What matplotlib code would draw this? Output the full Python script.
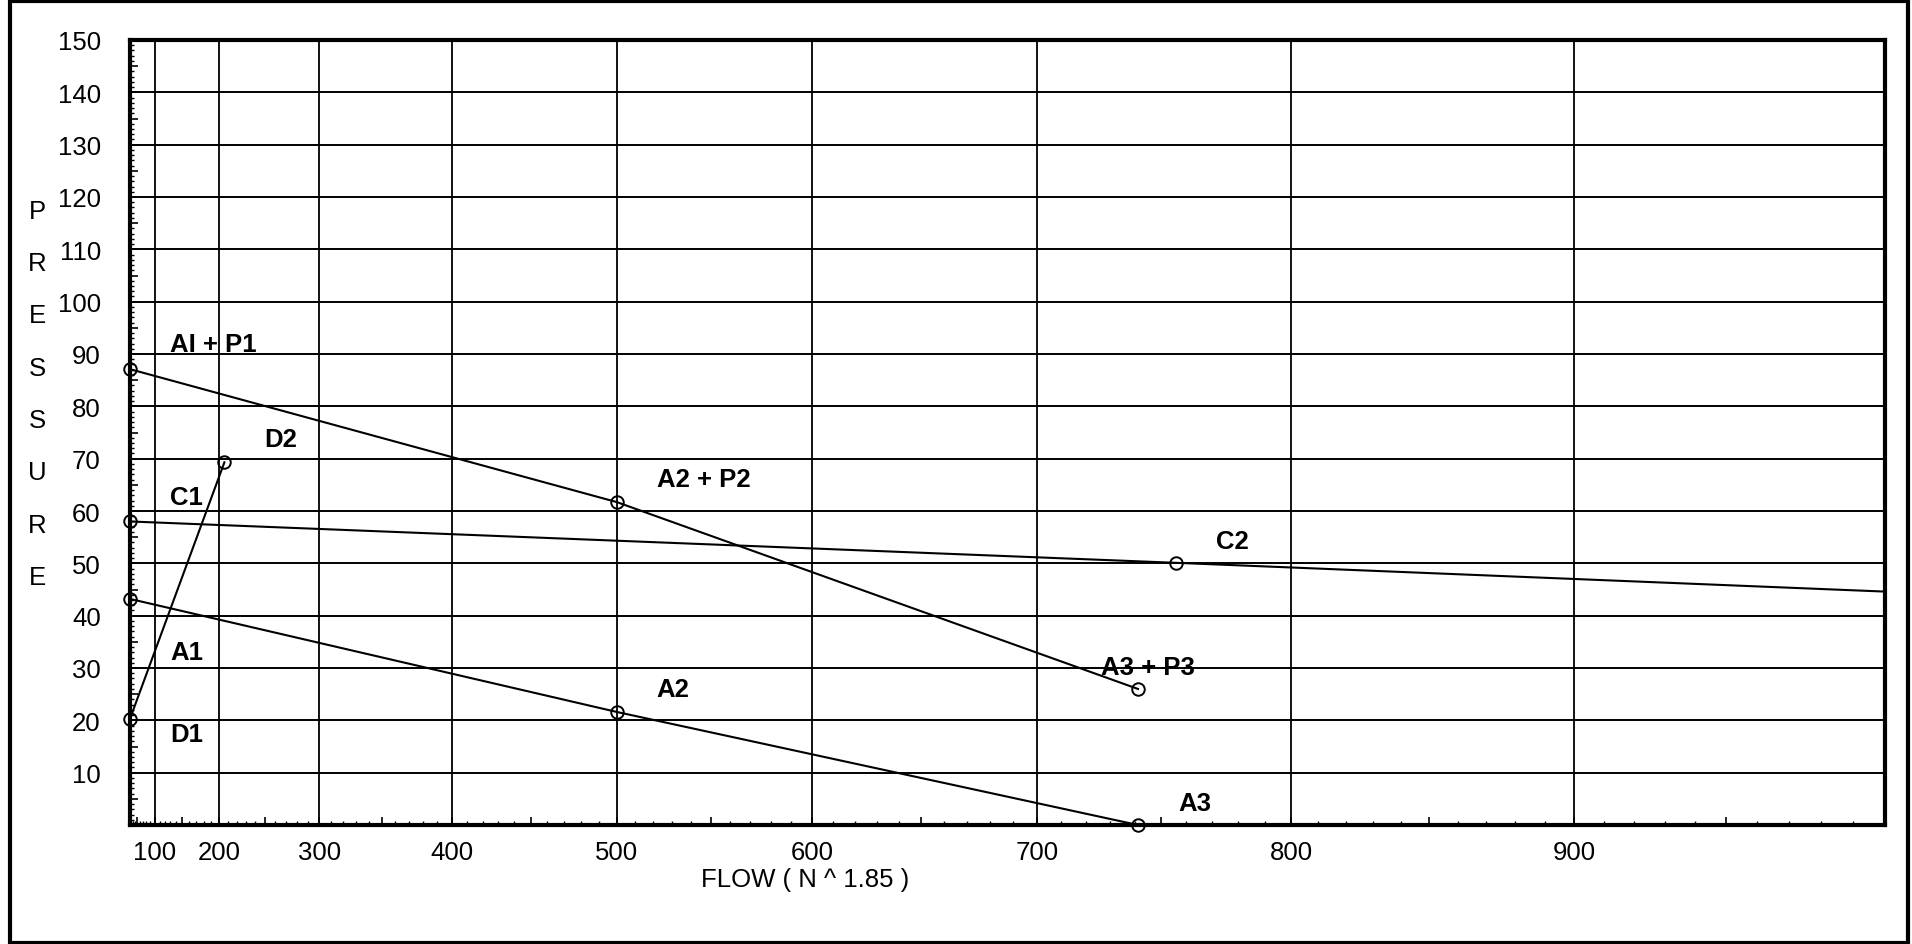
import matplotlib
matplotlib.use('Agg')
import matplotlib.pyplot as plt
import numpy as np
from matplotlib.patches import Rectangle
from matplotlib.transforms import blended_transform_factory

plt.rcParams['font.family'] = ['Liberation Sans', 'DejaVu Sans']

# flow values are plotted on N^1.85 paper
EXP = 1.85

# A line (A1, A2, A3)
a_x = [0, 500, 741]
a_y = [43.2, 21.6, 0.0]
# A + P line (AI + P1, A2 + P2, A3 + P3)
ap_x = [0, 500, 741]
ap_y = [87.1, 61.7, 26.0]
# C line (C1, C2, carried on to the edge)
c_x = [0, 756, 1000]
c_y = [58.0, 50.1, 44.6]
# D line (D1, D2)
d_x = [0, 206]
d_y = [20.3, 69.3]

# label, x, y, offset in pixels (right, up)
point_labels = [
    ("AI + P1", 0, 87.1, (40, 25)),
    ("A2 + P2", 500, 61.7, (40, 23)),
    ("A3 + P3", 741, 26.0, (-37, 22)),
    ("A1", 0, 43.2, (40, -53)),
    ("A2", 500, 21.6, (40, 23)),
    ("A3", 741, 0.0, (40, 22)),
    ("C1", 0, 58.0, (40, 24)),
    ("C2", 756, 50.1, (40, 22)),
    ("D1", 0, 20.3, (40, -15)),
    ("D2", 206, 69.3, (40, 23)),
]

x_labels = [100, 200, 300, 400, 500, 600, 700, 800, 900]
y_labels = list(range(10, 151, 10))


def fwd(x):
    x = np.asarray(x, dtype=float)
    return np.sign(x) * np.abs(x) ** EXP


def inv(x):
    x = np.asarray(x, dtype=float)
    return np.sign(x) * np.abs(x) ** (1.0 / EXP)


W, H = 1912, 945
fig = plt.figure(figsize=(W / 100, H / 100), dpi=100)
ax = fig.add_axes([130 / W, 1 - 826 / H, 1755 / W, 785 / H])
ax.set_xscale('function', functions=(fwd, inv))
ax.set_xlim(0, 1000)
ax.set_ylim(0, 150)

# grid paper
for gx in x_labels:
    ax.axvline(gx, color='black', lw=1.3, zorder=1)
for gy in y_labels[:-1]:
    ax.axhline(gy, color='black', lw=1.4, zorder=1)

# ticks: big ones on the 5s / 50s, small on the 1s / 10s
ax.set_xticks(np.arange(50, 1000, 50))
ax.set_xticklabels([str(v) if v % 100 == 0 else '' for v in range(50, 1000, 50)])
ax.set_xticks(np.arange(0, 1001, 10), minor=True)
ax.set_yticks(np.arange(0, 151, 5))
ax.set_yticklabels([str(v) if v % 10 == 0 and v > 0 else '' for v in range(0, 151, 5)])
ax.set_yticks(np.arange(0, 151, 1), minor=True)
ax.tick_params(axis='both', which='major', direction='in', length=6, width=1.2,
               labelsize=18.5, colors='black')
ax.tick_params(axis='both', which='minor', direction='in', length=3, width=1.0)
ax.tick_params(axis='x', which='major', pad=11)
ax.tick_params(axis='y', which='major', pad=21)
for s in ax.spines.values():
    s.set_linewidth(3)
    s.set_zorder(5)

kw = dict(color='black', lw=1.5, marker='o', ms=9, mfc='none', mec='black',
          mew=1.4, clip_on=False, zorder=6)
ax.plot(a_x, a_y, **kw)
ax.plot(ap_x, ap_y, **kw)
ax.plot(c_x, c_y, markevery=[0, 1], **kw)
ax.plot(d_x, d_y, **kw)

for txt, px, py, off in point_labels:
    ax.annotate(txt, (px, py), xytext=(off[0] * 0.72, off[1] * 0.72),
                textcoords='offset points', ha='left', va='center',
                fontsize=18.5, fontweight='bold', annotation_clip=False, zorder=7)

# vertical axis title, one letter per grid row
tr = blended_transform_factory(fig.transFigure, ax.transData)
for i, ch in enumerate("PRESSURE"):
    ax.text(37 / W, 117.4 - 10 * i, ch, transform=tr, ha='center', va='center',
            fontsize=18.5, clip_on=False)

fig.text(805 / W, 1 - 880 / H, "FLOW ( N ^ 1.85 )", ha='center', va='center', fontsize=18.5)

fig.patches.append(Rectangle((10 / W, 1 / H), 1898 / W, 942 / H, transform=fig.transFigure,
                             fill=False, lw=3, edgecolor='black'))

fig.savefig("out.png", dpi=100)
